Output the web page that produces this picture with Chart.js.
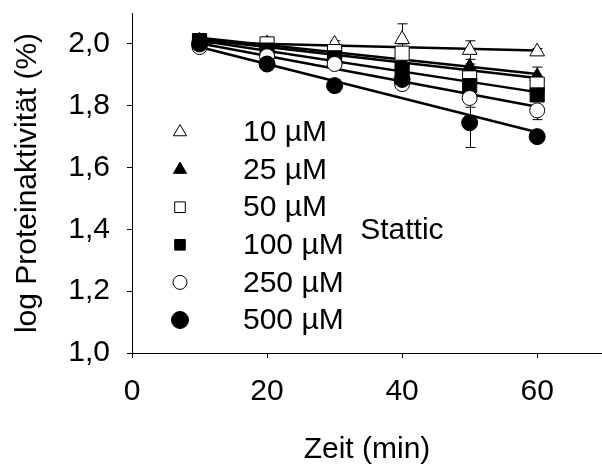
<!DOCTYPE html>
<html>
<head>
<meta charset="utf-8">
<script src="https://cdn.jsdelivr.net/npm/chart.js@4/dist/chart.umd.min.js"></script>
<style>
  html, body { margin: 0; padding: 0; background: #fff; overflow: hidden; }
  #wrap { width: 602px; height: 468px; }
</style>
</head>
<body>
<div id="wrap"><canvas id="c" width="602" height="468"></canvas></div>
<script>
const timeMin = [10, 20, 30, 40, 50, 60];
const concLabels = ['10 µM', '25 µM', '50 µM', '100 µM', '250 µM', '500 µM'];

// log activity per concentration
const act10 = [2.00, 2.00, 2.00, 2.015, 1.98, 1.975];
const act25 = [2.01, 2.00, 1.97, 1.94, 1.925, 1.895];
const act50 = [2.01, 2.00, 1.975, 1.97, 1.89, 1.87];
const act100 = [2.01, 1.98, 1.955, 1.915, 1.865, 1.835];
const act250 = [1.99, 1.96, 1.935, 1.87, 1.825, 1.785];
const act500 = [2.00, 1.935, 1.865, 1.885, 1.745, 1.70];

const err10 = [0.01, 0.01, 0.01, 0.05, 0.03, 0.01];
const err25 = [0.01, 0.01, 0.01, 0.01, 0.01, 0.03];
const err50 = [0.01, 0.02, 0.01, 0.03, 0.01, 0.02];
const err100 = [0.01, 0.01, 0.01, 0.02, 0.01, 0.02];
const err250 = [0.01, 0.02, 0.02, 0.01, 0.03, 0.03];
const err500 = [0.01, 0.02, 0.02, 0.02, 0.08, 0.02];

// regression lines, value at 10 and 60 min
const fitTime = [10, 60];
const fit10 = [2.005, 1.979];
const fit25 = [2.02, 1.903];
const fit50 = [2.015, 1.89];
const fit100 = [2.011, 1.844];
const fit250 = [2.002, 1.797];
const fit500 = [1.99, 1.714];

const xTicks = [0, 20, 40, 60];
const yTicks = [1.0, 1.2, 1.4, 1.6, 1.8, 2.0];
const annotationText = 'Stattic';
const annotationPos = { x: 33.8, y: 1.395 };

const series = [
  { label: concLabels[0], data: act10, err: err10, fit: fit10, style: 'triangle', filled: false, r: 8.5 },
  { label: concLabels[1], data: act25, err: err25, fit: fit25, style: 'triangle', filled: true, r: 8.5 },
  { label: concLabels[2], data: act50, err: err50, fit: fit50, style: 'rect', filled: false, r: 10 },
  { label: concLabels[3], data: act100, err: err100, fit: fit100, style: 'rect', filled: true, r: 10 },
  { label: concLabels[4], data: act250, err: err250, fit: fit250, style: 'circle', filled: false, r: 7.5 },
  { label: concLabels[5], data: act500, err: err500, fit: fit500, style: 'circle', filled: true, r: 8 },
];

const FONT = 'Arial, "Liberation Sans", sans-serif';
const FS = 30;

const datasets = [];
series.forEach((s) => {
  datasets.push({
    label: s.label + ' fit',
    data: fitTime.map((t, i) => ({ x: t, y: s.fit[i] })),
    showLine: true,
    borderColor: '#000',
    borderWidth: 2.5,
    pointRadius: 0,
    order: 10,
  });
});
series.forEach((s, k) => {
  datasets.push({
    label: s.label,
    data: timeMin.map((t, i) => ({ x: t, y: s.data[i] })),
    showLine: false,
    pointStyle: s.style,
    pointRadius: s.r,
    pointBorderWidth: 1,
    pointBorderColor: '#000',
    pointBackgroundColor: s.filled ? '#000' : '#fff',
    errors: s.err,
    order: 6 - k,
  });
});

const errorBars = {
  id: 'errorBars',
  beforeDatasetsDraw(chart) {
    const { ctx, scales: { x, y } } = chart;
    ctx.save();
    ctx.strokeStyle = '#000';
    ctx.lineWidth = 1;
    chart.data.datasets.forEach((ds) => {
      if (!ds.errors) return;
      ds.data.forEach((p, i) => {
        const e = ds.errors[i];
        const px = Math.round(x.getPixelForValue(p.x)) + 0.5;
        const top = y.getPixelForValue(p.y + e);
        const bot = y.getPixelForValue(p.y - e);
        ctx.beginPath();
        ctx.moveTo(px, top); ctx.lineTo(px, bot);
        ctx.moveTo(px - 5, top); ctx.lineTo(px + 5, top);
        ctx.moveTo(px - 5, bot); ctx.lineTo(px + 5, bot);
        ctx.stroke();
      });
    });
    ctx.restore();
  },
};

const legendAndText = {
  id: 'legendAndText',
  afterDraw(chart) {
    const { ctx, chartArea, scales: { x, y } } = chart;
    ctx.save();
    ctx.font = FS + 'px ' + FONT;
    ctx.fillStyle = '#000';
    ctx.textBaseline = 'middle';
    ctx.textAlign = 'left';
    const mx = chartArea.left + 48;
    const tx = chartArea.left + 111;
    const y0 = 132;
    const dy = 37.6;
    series.forEach((s, i) => {
      const yy = y0 + i * dy;
      ctx.fillStyle = s.filled ? '#000' : '#fff';
      ctx.strokeStyle = '#000';
      Chart.helpers.drawPoint(ctx, {
        pointStyle: s.style,
        radius: s.style === 'rect' ? 7.5 : (s.style === 'circle' ? (s.filled ? 8.5 : 7) : 7.5),
        rotation: 0,
        borderWidth: 1,
      }, mx, yy);
      ctx.fillStyle = '#000';
      ctx.fillText(s.label, tx, yy + 1);
    });
    ctx.fillText(annotationText, x.getPixelForValue(annotationPos.x), y.getPixelForValue(annotationPos.y));
    ctx.restore();
  },
};

new Chart(document.getElementById('c'), {
  type: 'scatter',
  data: { datasets },
  plugins: [errorBars, legendAndText],
  options: {
    responsive: false,
    animation: false,
    devicePixelRatio: 1,
    layout: { autoPadding: false, padding: { top: 13, right: 0, left: 0, bottom: 0 } },
    plugins: { legend: { display: false }, tooltip: { enabled: false } },
    scales: {
      x: {
        type: 'linear',
        min: 0,
        max: 69.6,
        afterBuildTicks: (scale) => { scale.ticks = xTicks.map((v) => ({ value: v })); },
        afterFit: (scale) => {
          scale.height = 115;
          scale.paddingLeft = 0;
          scale.paddingRight = 0;
        },
        ticks: { color: '#000', font: { size: FS, family: FONT }, padding: 16, maxRotation: 0 },
        grid: { drawOnChartArea: false, drawTicks: true, tickLength: 5, color: '#000' },
        border: { display: true, color: '#000', width: 1 },
        title: { display: true, text: 'Zeit (min)', color: '#000', font: { size: FS, family: FONT }, padding: { top: 10, bottom: 0 } },
      },
      y: {
        type: 'linear',
        min: 1.0,
        max: 2.1,
        afterBuildTicks: (scale) => { scale.ticks = yTicks.map((v) => ({ value: v })); },
        afterFit: (scale) => {
          scale.width = 132;
          scale.paddingTop = 0;
          scale.paddingBottom = 0;
        },
        ticks: {
          color: '#000',
          font: { size: FS, family: FONT },
          padding: 17,
          callback: (v) => Number(v).toFixed(1).replace('.', ','),
        },
        grid: { drawOnChartArea: false, drawTicks: true, tickLength: 5, color: '#000' },
        border: { display: true, color: '#000', width: 1 },
        title: { display: true, text: 'log Proteinaktivität (%)', color: '#000', font: { size: FS, family: FONT }, padding: { top: 10, bottom: 0 } },
      },
    },
  },
});
</script>
</body>
</html>
